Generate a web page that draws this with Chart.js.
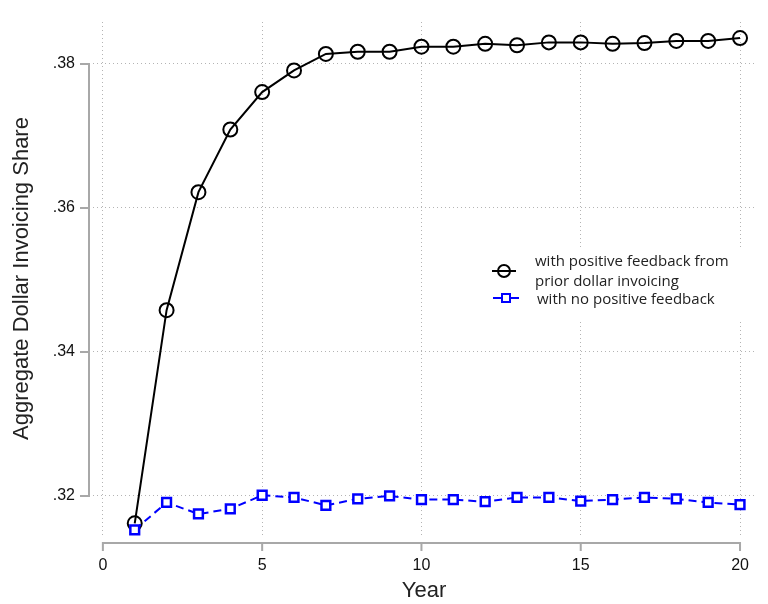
<!DOCTYPE html>
<html>
<head>
<meta charset="utf-8">
<title>Aggregate Dollar Invoicing Share</title>
<script src="https://cdn.jsdelivr.net/npm/chart.js@4.4.1/dist/chart.umd.min.js"></script>
<style>
  html, body { margin: 0; padding: 0; background: #fff; }
  #chart { display: block; }
</style>
</head>
<body>
<canvas id="chart" width="768" height="604"></canvas>
<script>
/* Aggregate dollar invoicing share, with / without positive feedback
   Chart.js v4, Stata-like look */

// ── Data ─────────────────────────────────────────────────────────────────────
const YEARS = [1, 2, 3, 4, 5, 6, 7, 8, 9, 10, 11, 12, 13, 14, 15, 16, 17, 18, 19, 20];

const WITH_FEEDBACK = [
  .3162, .3458, .3622, .3709, .3761, .3791, .3814, .3817, .3817, .3824,
  .3824, .3828, .3826, .3830, .3830, .3828, .3829, .3832, .3832, .3836,
];

const NO_FEEDBACK = [
  .3153, .3191, .3175, .3182, .3201, .3198, .3187, .3196, .3200, .3195,
  .3195, .3192, .3198, .3198, .3193, .3195, .3198, .3196, .3191, .3188,
];

const X_TICKS = [0, 5, 10, 15, 20];
const X_TICK_LABELS = ['0', '5', '10', '15', '20'];
const Y_TICKS = [.32, .34, .36, .38];
const Y_TICK_LABELS = ['.32', '.34', '.36', '.38'];

const LABEL_WITH = ['with positive feedback from', 'prior dollar invoicing'];
const LABEL_WITHOUT = ['with no positive feedback'];

// ── Styles ───────────────────────────────────────────────────────────────────
const AXIS_GRAY = '#a8a8a8';
const GRID_GRAY = '#b4b4b4';
const BLUE = '#0000ff';

Chart.defaults.font.family = '"Liberation Sans", Arial, sans-serif';
Chart.defaults.color = '#111';

// ── Plugins ──────────────────────────────────────────────────────────────────

// Stata draws the axis lines only over the tick range, offset from the plot region
const stataAxes = {
  id: 'stataAxes',
  beforeDatasetsDraw(chart) {
    const { ctx, chartArea, scales: { x, y } } = chart;
    const axisX = chartArea.left - 4;
    const axisY = chartArea.bottom + 8;

    ctx.save();
    ctx.strokeStyle = AXIS_GRAY;
    ctx.lineWidth = 2;
    ctx.beginPath();

    const yTop = y.getPixelForValue(Y_TICKS[Y_TICKS.length - 1]);
    const yBot = y.getPixelForValue(Y_TICKS[0]);
    ctx.moveTo(axisX, yTop - 1);
    ctx.lineTo(axisX, yBot + 1);
    Y_TICKS.forEach(v => {
      const p = y.getPixelForValue(v);
      ctx.moveTo(axisX - 9, p);
      ctx.lineTo(axisX, p);
    });

    const xL = x.getPixelForValue(X_TICKS[0]);
    const xR = x.getPixelForValue(X_TICKS[X_TICKS.length - 1]);
    ctx.moveTo(xL - 1, axisY);
    ctx.lineTo(xR + 1, axisY);
    X_TICKS.forEach(v => {
      const p = x.getPixelForValue(v);
      ctx.moveTo(p, axisY);
      ctx.lineTo(p, axisY + 8);
    });

    ctx.stroke();
    ctx.restore();
  },
};

// Legend sits inside the plot on a white box
const insideLegend = {
  id: 'insideLegend',
  afterDatasetsDraw(chart) {
    const { ctx } = chart;
    ctx.save();
    ctx.fillStyle = '#fff';
    ctx.fillRect(478, 247, 278, 73);

    // black line + hollow circle
    ctx.strokeStyle = '#000';
    ctx.lineWidth = 2;
    ctx.beginPath();
    ctx.moveTo(492, 271);
    ctx.lineTo(516, 271);
    ctx.stroke();
    ctx.beginPath();
    ctx.arc(504, 271, 6, 0, Math.PI * 2);
    ctx.stroke();

    // blue dashes + hollow square
    ctx.strokeStyle = BLUE;
    ctx.beginPath();
    ctx.moveTo(493, 298);
    ctx.lineTo(501, 298);
    ctx.moveTo(511, 298);
    ctx.lineTo(519, 298);
    ctx.stroke();
    ctx.fillStyle = '#fff';
    ctx.fillRect(502, 294, 8, 8);
    ctx.strokeRect(502, 294, 8, 8);

    ctx.fillStyle = '#222';
    ctx.font = '15px "Open Sans", "Noto Sans", sans-serif';
    ctx.textBaseline = 'middle';
    ctx.textAlign = 'left';
    ctx.fillText(LABEL_WITH[0], 535, 262);
    ctx.fillText(LABEL_WITH[1], 535, 282);
    ctx.fillText(LABEL_WITHOUT[0], 537, 300);
    ctx.restore();
  },
};

// ── Chart ────────────────────────────────────────────────────────────────────
new Chart(document.getElementById('chart'), {
  type: 'line',
  data: {
    datasets: [
      {
        label: LABEL_WITH.join(' '),
        data: YEARS.map((yr, i) => ({ x: yr, y: WITH_FEEDBACK[i] })),
        borderColor: '#000',
        borderWidth: 2,
        pointStyle: 'circle',
        pointRadius: 7,
        pointBorderWidth: 2,
        pointBorderColor: '#000',
        pointBackgroundColor: 'rgba(0,0,0,0)',
        tension: 0,
        clip: false,
        order: 1,
      },
      {
        label: LABEL_WITHOUT[0],
        data: YEARS.map((yr, i) => ({ x: yr, y: NO_FEEDBACK[i] })),
        borderColor: BLUE,
        borderWidth: 2,
        borderDash: [8, 5],
        pointStyle: 'rect',
        pointRadius: 6.2,
        pointBorderWidth: 2.5,
        pointBorderColor: BLUE,
        pointBackgroundColor: '#fff',
        tension: 0,
        clip: false,
        order: 0,
      },
    ],
  },
  options: {
    responsive: false,
    animation: false,
    layout: { padding: { top: 22, right: 13, left: 0, bottom: 0 } },
    plugins: {
      legend: { display: false },
      tooltip: { enabled: false },
    },
    scales: {
      x: {
        type: 'linear',
        min: -0.31,
        max: 20.47,
        afterBuildTicks: s => { s.ticks = X_TICKS.map(v => ({ value: v })); },
        // fixed band under the plot; layout padding decides the edges
        afterFit: s => { s.height = 69; s.paddingLeft = 0; s.paddingRight = 0; },
        ticks: {
          padding: 21,
          maxRotation: 0,
          font: { size: 16 },
          color: '#111',
          callback: (v, i) => X_TICK_LABELS[i],
        },
        grid: { color: GRID_GRAY, lineWidth: 1, drawTicks: false },
        border: { display: false, dash: [1, 3] },
        title: {
          display: true,
          text: 'Year',
          font: { size: 22 },
          color: '#222',
          padding: { top: 0, bottom: 0 },
        },
      },
      y: {
        type: 'linear',
        min: 0.31458,
        max: 0.38583,
        afterBuildTicks: s => { s.ticks = Y_TICKS.map(v => ({ value: v })); },
        afterFit: s => { s.width = 93; s.paddingTop = 0; s.paddingBottom = 0; },
        ticks: {
          padding: 18,
          font: { size: 16 },
          color: '#111',
          callback: (v, i) => Y_TICK_LABELS[i],
        },
        grid: { color: GRID_GRAY, lineWidth: 1, drawTicks: false },
        border: { display: false, dash: [1, 3] },
        title: {
          display: true,
          text: 'Aggregate Dollar Invoicing Share',
          font: { size: 22 },
          color: '#222',
          padding: { top: 9, bottom: 0 },
        },
      },
    },
  },
  plugins: [stataAxes, insideLegend],
});
</script>
</body>
</html>
